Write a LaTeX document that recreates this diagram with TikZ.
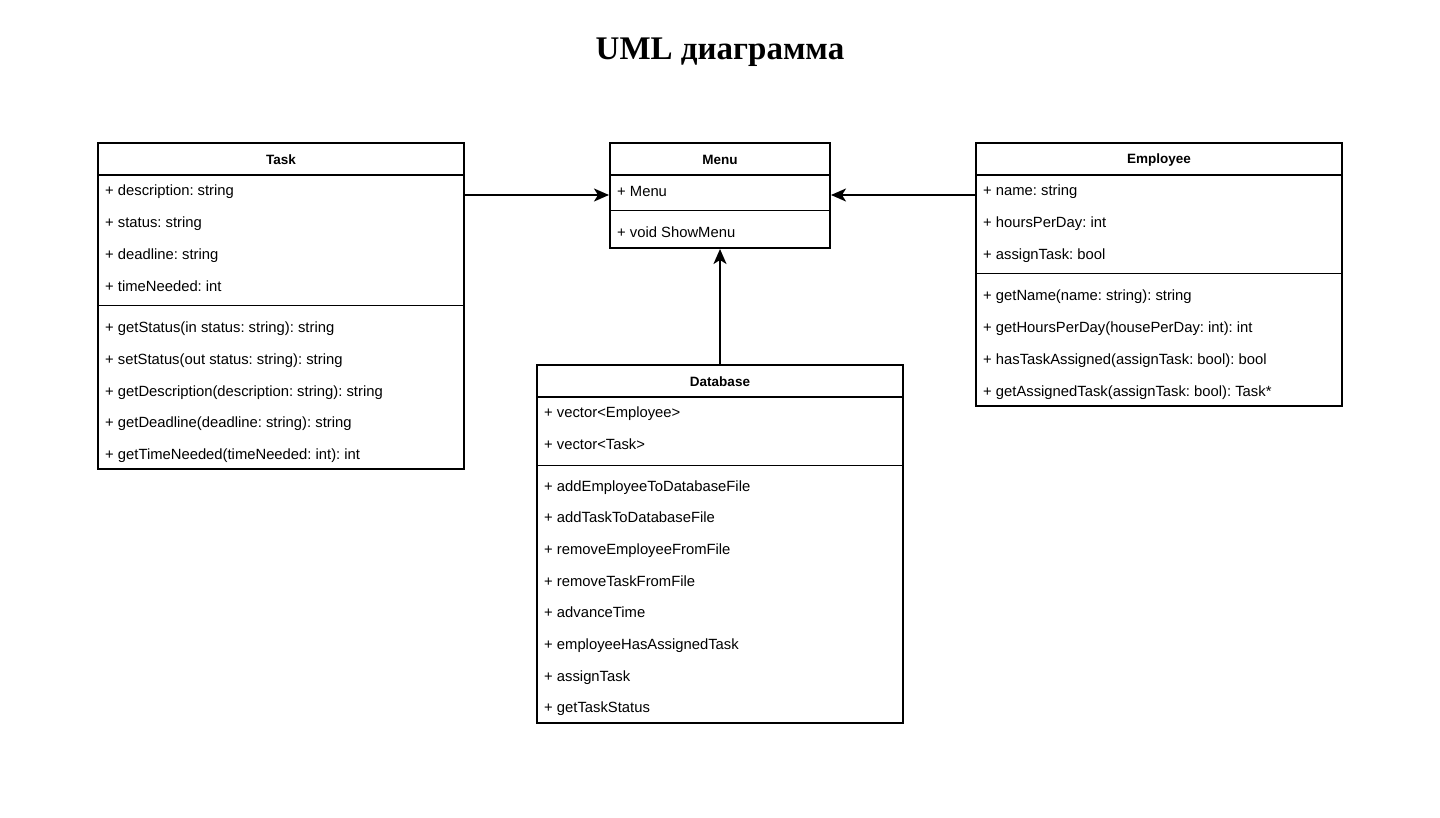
\documentclass[tikz,border=0pt]{standalone}
\usepackage{fontspec}
\setmainfont{Liberation Sans}
\newfontfamily\titlefont{Liberation Serif}
\usetikzlibrary{arrows.meta}
\frenchspacing

\begin{document}
\begin{tikzpicture}[x=1pt, y=-1pt,
  classbox/.style={draw, line width=2pt, minimum width=#1, inner sep=0pt},
  head/.style={font=\fontsize{13.5}{15}\selectfont\bfseries},
  member/.style={anchor=west, inner sep=0pt, text height=12pt, text depth=1pt, font=\fontsize{14.8}{16}\selectfont},
  conn/.style={line width=2pt, -{Stealth[length=15pt, width=13pt, inset=4pt]}}]
  \useasboundingbox (0,0) rectangle (1440,818);

  \node[font=\titlefont\fontsize{33}{38}\selectfont\bfseries] (title) at (720,52) {UML диаграмма};

  % Task
  \node[classbox=366pt, minimum height=326pt] (task) at (281,306) {};
  \node[head] (taskname) at (281,160) {Task};
  \draw[line width=1.5pt] (98,175) -- (464,175);
  \node[member] (t1) at (105,190) {+ description: string};
  \node[member] (t2) at (105,222) {+ status: string};
  \node[member] (t3) at (105,254) {+ deadline: string};
  \node[member] (t4) at (105,286) {+ timeNeeded: int};
  \draw[line width=1pt] (98,306) -- (464,306);
  \node[member] (t5) at (105,327) {+ getStatus(in status: string): string};
  \node[member] (t6) at (105,359) {+ setStatus(out status: string): string};
  \node[member] (t7) at (105,391) {+ getDescription(description: string): string};
  \node[member] (t8) at (105,422) {+ getDeadline(deadline: string): string};
  \node[member] (t9) at (105,454) {+ getTimeNeeded(timeNeeded: int): int};

  % Menu
  \node[classbox=220pt, minimum height=105pt] (menu) at (720,195.5) {};
  \node[head] (menuname) at (720,160) {Menu};
  \draw[line width=1.5pt] (610,175) -- (830,175);
  \node[member] (m1) at (617,191) {+ Menu};
  \draw[line width=1pt] (610,211) -- (830,211);
  \node[member] (m2) at (617,232) {+ void ShowMenu};
  \coordinate (level) at (720,195);

  % Employee
  \node[classbox=366pt, minimum height=263pt] (emp) at (1159,274.5) {};
  \node[head] (empname) at (1159,160) {Employee};
  \draw[line width=1.5pt] (976,175) -- (1342,175);
  \node[member] (e1) at (983,190) {+ name: string};
  \node[member] (e2) at (983,222) {+ hoursPerDay: int};
  \node[member] (e3) at (983,254) {+ assignTask: bool};
  \draw[line width=1pt] (976,274) -- (1342,274);
  \node[member] (e4) at (983,295) {+ getName(name: string): string};
  \node[member] (e5) at (983,327) {+ getHoursPerDay(housePerDay: int): int};
  \node[member] (e6) at (983,359) {+ hasTaskAssigned(assignTask: bool): bool};
  \node[member] (e7) at (983,391) {+ getAssignedTask(assignTask: bool): Task*};

  % Database
  \node[classbox=366pt, minimum height=358pt] (db) at (720,544) {};
  \node[head] (dbname) at (720,382) {Database};
  \draw[line width=1.5pt] (537,397) -- (903,397);
  \node[member] (d1) at (544,412) {+ vector<Employee>};
  \node[member] (d2) at (544,444) {+ vector<Task>};
  \draw[line width=1pt] (537,465) -- (903,465);
  \node[member] (d3) at (544,486) {+ addEmployeeToDatabaseFile};
  \node[member] (d4) at (544,517) {+ addTaskToDatabaseFile};
  \node[member] (d5) at (544,549) {+ removeEmployeeFromFile};
  \node[member] (d6) at (544,581) {+ removeTaskFromFile};
  \node[member] (d7) at (544,612) {+ advanceTime};
  \node[member] (d8) at (544,644) {+ employeeHasAssignedTask};
  \node[member] (d9) at (544,676) {+ assignTask};
  \node[member] (d10) at (544,707) {+ getTaskStatus};

  \draw[conn] (task.east |- level) -- (menu.west |- level);
  \draw[conn] (emp.west |- level) -- (menu.east |- level);
  \draw[conn] (db.north) -- (menu.south);
\end{tikzpicture}
\end{document}
